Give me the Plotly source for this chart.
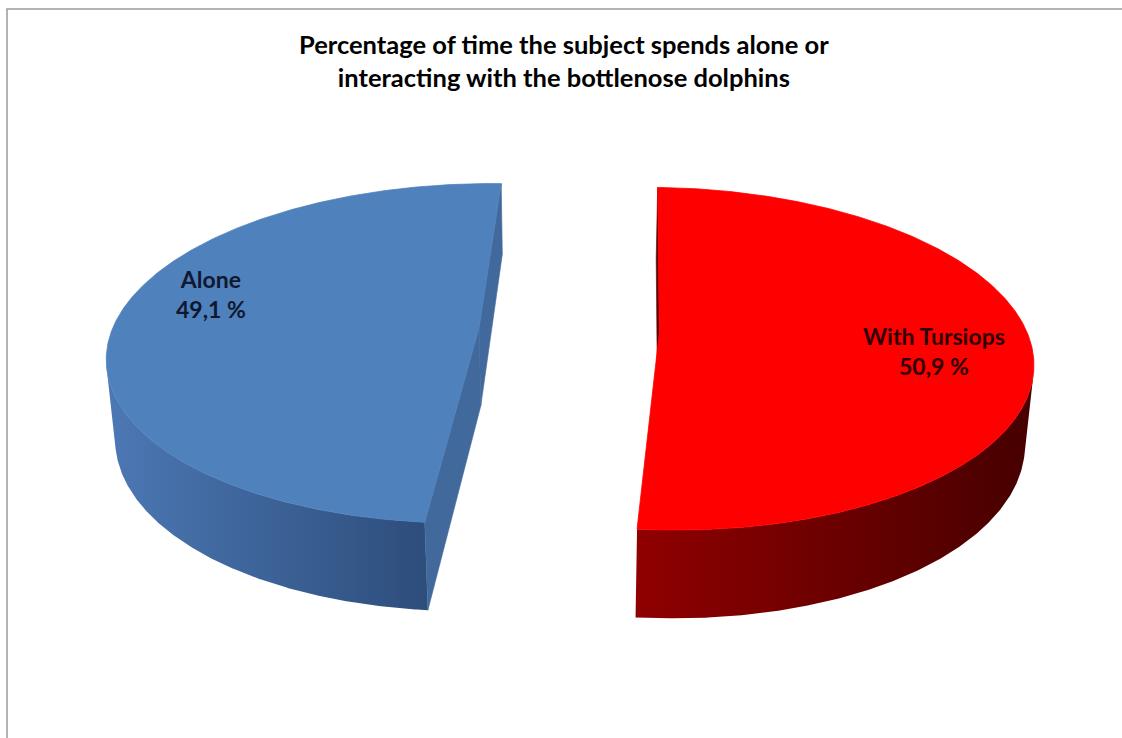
import numpy as np
import plotly.graph_objects as go

# ---- data ----
labels = ["With Tursiops", "Alone"]
values = [50.9, 49.1]
top_colors = ["#ff0000", "#4f81bd"]
rim_colors = [["#900000", "#460000"], ["#4c78b4", "#2d4d7b"]]
cut_colors = ["#5a0000", "#41699c"]
label_colors = ["#2e0000", "#101830"]
label_shift = [-11, 26]

title_text = ("Percentage of time the subject spends alone or<br>"
              "interacting with the bottlenose dolphins")

# ---- 3-D pie geometry ----
W, H = 1122, 738
START = np.radians(1.85)      # first slice angle, clockwise from the back
EXPLODE = 0.246               # slice offset along its bisector (radius units)
THICK = 0.245                 # pie thickness
ELEV = np.radians(27)         # viewing elevation
DIST = 5.84                   # camera distance
SCALE = 367                   # pixels per radius unit
CX, CY = 569, 330             # projected pie centre in pixels

ce, se = np.cos(ELEV), np.sin(ELEV)
CAM = np.array([0.0, DIST * se, DIST * ce])


def proj(X, Y, Z):
    X, Y, Z = np.asarray(X, float), np.asarray(Y, float), np.asarray(Z, float)
    v = Y * ce - Z * se
    w = Y * se + Z * ce
    f = DIST / (DIST - w)
    return X * f, v * f


def poly(pts, **kw):
    pts = np.asarray(pts)
    x, y = proj(pts[:, 0], pts[:, 1], pts[:, 2])
    x = np.append(x, x[0])
    y = np.append(y, y[0])
    return go.Scatter(x=x, y=y, mode="lines", fill="toself",
                      hoverinfo="skip", showlegend=False, **kw)


fig = go.Figure()
fractions = np.array(values) / np.sum(values)
edges = START + 2 * np.pi * np.concatenate([[0], np.cumsum(fractions)])

annotations = []
for i, name in enumerate(labels):
    a0, a1 = edges[i], edges[i + 1]
    mid = 0.5 * (a0 + a1)
    ox, oz = EXPLODE * np.sin(mid), -EXPLODE * np.cos(mid)

    def rim(t, y):
        return np.column_stack([ox + np.sin(t), np.full_like(t, y), oz - np.cos(t)])

    traces = []

    # outer wall: only the part facing the camera
    th = np.linspace(a0, a1, 600)
    pmid = rim(th, -THICK / 2)
    normal = np.column_stack([np.sin(th), np.zeros_like(th), -np.cos(th)])
    vis = np.einsum("ij,ij->i", normal, CAM - pmid) > 0
    if vis.any():
        tv = th[vis]
        wall = np.vstack([rim(tv, 0.0), rim(tv[::-1], -THICK)])
        traces.append(poly(wall, line=dict(width=0),
                           fillgradient=dict(type="horizontal",
                                             colorscale=[[0, rim_colors[i][0]],
                                                         [1, rim_colors[i][1]]])))

    # radial cut faces
    for t, sgn in ((a0, -1), (a1, 1)):
        n = sgn * np.array([np.cos(t), 0.0, np.sin(t)])
        tt = np.array([t])
        face = np.vstack([[ox, 0, oz], rim(tt, 0.0), rim(tt, -THICK), [ox, -THICK, oz]])
        if np.dot(n, CAM - face.mean(axis=0)) > 0:
            traces.append(poly(face, line=dict(width=0.6, color=cut_colors[i]),
                               fillcolor=cut_colors[i]))

    # top face
    top = np.vstack([[ox, 0, oz], rim(th, 0.0)])
    traces.append(poly(top, line=dict(width=0.8, color=top_colors[i]),
                       fillcolor=top_colors[i]))
    for tr in traces:
        fig.add_trace(tr)

    # data label on the top face
    lx, ly = proj(ox + 0.74 * np.sin(mid), 0.0, oz - 0.74 * np.cos(mid))
    pct = format(values[i], ".1f").replace(".", ",")
    annotations.append(dict(x=float(lx), y=float(ly), xref="x", yref="y",
                            text=f"<b>{name}<br>{pct} %</b>", showarrow=False,
                            yshift=label_shift[i],
                            font=dict(family="Lato, sans-serif", size=23,
                                      color=label_colors[i])))

annotations.append(dict(x=564 / W, y=1 - 60 / H, xref="paper", yref="paper",
                        text=f"<b>{title_text}</b>", showarrow=False,
                        xanchor="center", yanchor="middle",
                        font=dict(family="Lato, sans-serif", size=25.5, color="#000000")))

fig.update_layout(
    width=W, height=H, margin=dict(l=0, r=0, t=0, b=0),
    paper_bgcolor="white", plot_bgcolor="white",
    xaxis=dict(visible=False, range=[(0 - CX) / SCALE, (W - CX) / SCALE], fixedrange=True),
    yaxis=dict(visible=False, range=[(CY - H) / SCALE, CY / SCALE], fixedrange=True),
    annotations=annotations,
    shapes=[dict(type="rect", xref="paper", yref="paper",
                 x0=7 / W, x1=1.02, y0=-0.02, y1=1 - 9 / H,
                 line=dict(color="#9b9b9b", width=1.5))],
)

fig.write_html("out.html")
